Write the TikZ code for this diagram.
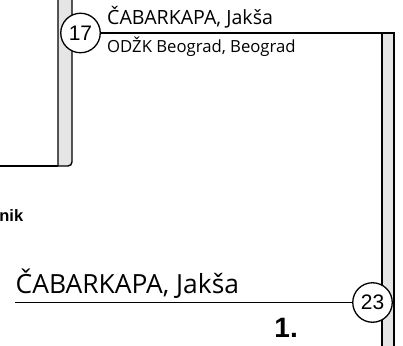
\documentclass[tikz,border=0pt]{standalone}
\usepackage{fontspec}
\newfontfamily\namefont{Open Sans}
\newfontfamily\numfont{Liberation Sans}
\tikzset{
  every picture/.style={x=1pt,y=1pt},
  bar/.style={draw=black, line width=1.4pt, fill=black!10},
  conn/.style={draw=black, line width=1.4pt},
  seed/.style={circle, draw=black, line width=1.3pt, fill=white, minimum size=39.5pt, inner sep=0pt, font=\numfont\fontsize{21}{21}\selectfont},
  txt/.style={inner sep=0pt, anchor=base west},
}
\begin{document}
\begin{tikzpicture}
\useasboundingbox (0,0) rectangle (403,345);
% bars
\draw[bar] (58,350) -- (58,179) -- (68,179) arc[start angle=-90,end angle=0,radius=4pt] -- (72,350);
\draw[bar] (382,-5) -- (382,312) -- (394,312) -- (394,-5);
\coordinate (lbar) at (58,179);
\coordinate (lfree) at (-5,179);
\coordinate (rbtop) at (382,312);
\coordinate (bfree) at (15,42.5);
% seeds
\node[seed] (c17) at (80.5,312) {17};
\node[seed] (c23) at (372.5,42.5) {23};
% connectors
\draw[conn] (lfree) -- (lbar);
\draw[conn] (c17) -- (rbtop);
\draw[conn] (bfree) -- (c23);
% texts
\node[txt, font=\namefont\fontsize{19.6}{20}\selectfont] (n1) at (107,320) {ČABARKAPA, Jakša};
\node[txt, font=\namefont\fontsize{16.7}{18}\selectfont] (club1) at (107,292.3) {ODŽK Beograd, Beograd};
\node[txt, font=\namefont\fontsize{26.4}{28}\selectfont] (n2) at (15.5,52) {ČABARKAPA, Jakša};
\node[inner sep=0pt, anchor=base east, font=\numfont\bfseries\fontsize{28}{28}\selectfont] (place) at (298,8) {1.};
\node[txt, font=\numfont\bfseries\fontsize{16.5}{16}\selectfont] (nik) at (-0.8,124) {nik};
\end{tikzpicture}
\end{document}
